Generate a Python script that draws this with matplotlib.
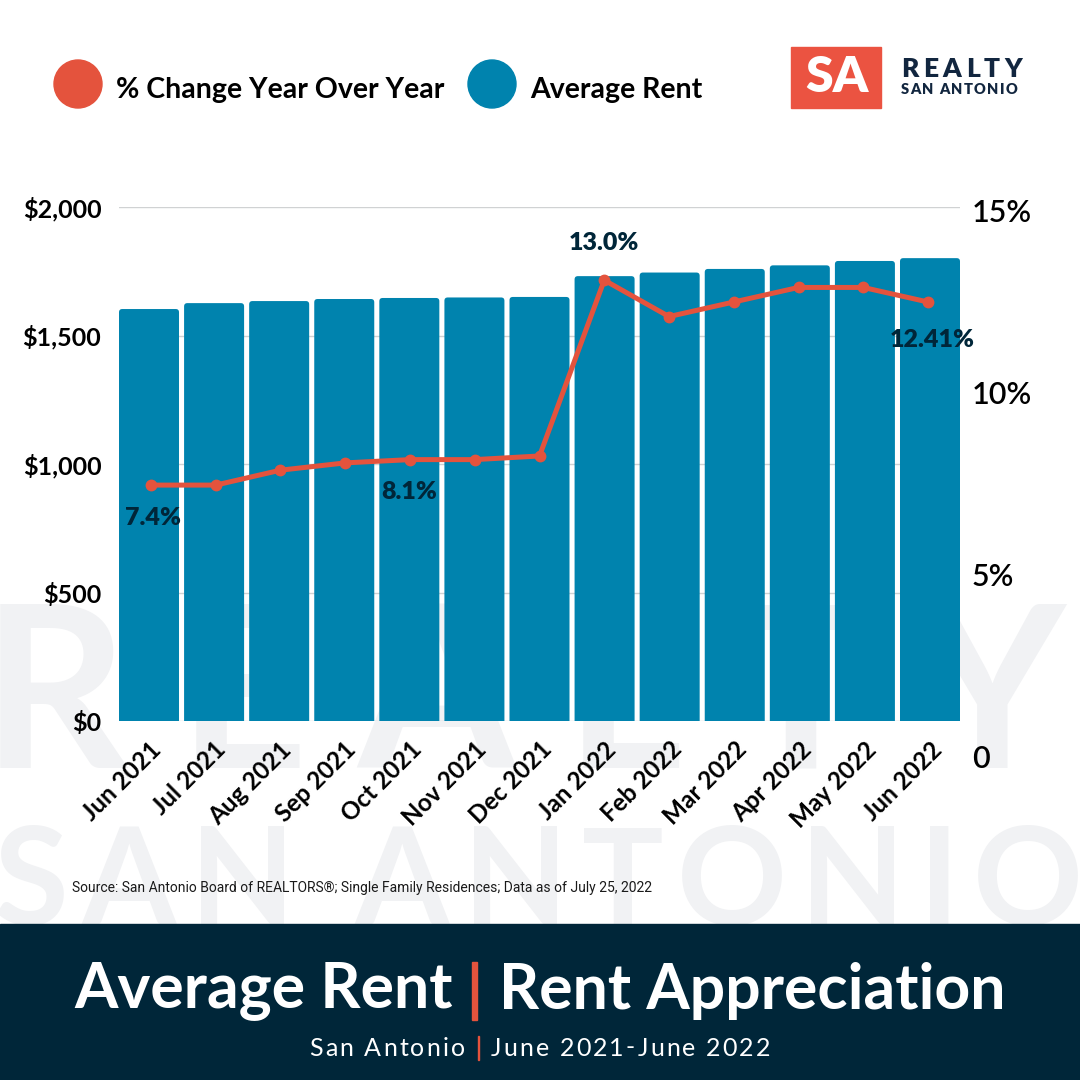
import matplotlib
matplotlib.use('Agg')
import matplotlib.pyplot as plt
from matplotlib.patches import FancyBboxPatch, Rectangle, Ellipse
from matplotlib.transforms import ScaledTranslation
from matplotlib.font_manager import FontProperties
from matplotlib.textpath import text_to_path

plt.rcParams['font.family'] = ['Lato', 'DejaVu Sans']

months = ['Jun 2021', 'Jul 2021', 'Aug 2021', 'Sep 2021', 'Oct 2021', 'Nov 2021', 'Dec 2021',
          'Jan 2022', 'Feb 2022', 'Mar 2022', 'Apr 2022', 'May 2022', 'Jun 2022']
rent = [1603, 1626, 1634, 1642, 1646, 1648, 1650, 1731, 1745, 1759, 1773, 1790, 1801]
pct_change = [7.47, 7.47, 7.88, 8.08, 8.17, 8.17, 8.27, 13.1, 12.1, 12.5, 12.9, 12.9, 12.5]
rent_ticks = [0, 500, 1000, 1500, 2000]
rent_labels = ['$0', '$500', '$1,000', '$1,500', '$2,000']
pct_ticks = [0, 5, 10, 15]
pct_labels = ['0', '5%', '10%', '15%']
# index into pct_change, label text, pixel offset of the label
point_labels = [(0, '7.4%', 2, 33), (4, '8.1%', -1, 32), (7, '13.0%', 0, -37), (12, '12.41%', 4, 38)]

RED = '#e4533d'
BLUE = '#0083ae'
DARK = '#002639'
WATERMARK = '#f1f2f4'

fig = plt.figure(figsize=(10.8, 10.8), dpi=100)
bg = fig.add_axes([0, 0, 1, 1])
bg.set_xlim(0, 1080)
bg.set_ylim(1080, 0)
bg.axis('off')


def spaced_text(x, y, s, spacing, size, weight='normal', color='black', family='Lato', zorder=2):
    # matplotlib has no letter spacing so every character goes down by itself
    prop = FontProperties(family=family, size=size, weight=weight)
    px = 100 / 72
    def width(t):
        return text_to_path.get_text_width_height_descent(t, prop, False)[0] * px
    for i, c in enumerate(s):
        if c != ' ':
            bg.text(x + width(s[:i]) + spacing * i, y, c, fontproperties=prop, color=color,
                    va='center', ha='left', zorder=zorder)


# watermark behind the chart
spaced_text(-18, 703, 'REALTY', 50, 163, weight='bold', color=WATERMARK, zorder=0)
spaced_text(-6, 886, 'SAN ANTONIO', 13.5, 98, weight='bold', color=WATERMARK, zorder=0)

# legend
bg.add_patch(Ellipse((78, 84), 48, 48, color=RED))
bg.add_patch(Ellipse((492, 84), 48, 48, color=BLUE))
bg.text(116, 90, '% Change Year Over Year', fontsize=20.5, fontweight='bold', color='black', va='center')
bg.text(530, 90, 'Average Rent', fontsize=20.5, fontweight='bold', color='black', va='center')

# logo
bg.add_patch(Rectangle((791, 47), 90, 61, color='#eb5341'))
bg.text(837, 78, 'SA', fontsize=36, fontweight='heavy', color='white', ha='center', va='center')
spaced_text(901, 69, 'REALTY', 4.5, 19, weight='heavy', color='#12263f')
spaced_text(901, 89, 'SAN ANTONIO', 1.3, 10.5, weight='heavy', color='#12263f')

# bars, left axis
bar_w = 0.922
ax = fig.add_axes([119 / 1080, 1 - 721 / 1080, 841 / 1080, 514 / 1080])
ax.patch.set_alpha(0)
ax.set_xlim(-bar_w / 2, 12 + bar_w / 2)
ax.set_ylim(0, 2000)
ax.set_yticks(rent_ticks)
ax.set_yticklabels(rent_labels, fontsize=18, fontweight='bold')
ax.set_xticks(range(len(months)))
ax.set_xticklabels(months, fontsize=17.5, fontweight='bold', rotation=45, ha='right', rotation_mode='anchor')
shift = ScaledTranslation(17 / 100, 0, fig.dpi_scale_trans)
for t in ax.get_xticklabels():
    t.set_transform(t.get_transform() + shift)
up = ScaledTranslation(0, 1 / 100, fig.dpi_scale_trans)
for t in ax.get_yticklabels():
    t.set_transform(t.get_transform() + up)
ax.tick_params(axis='both', length=0)
ax.tick_params(axis='y', pad=12.7)
ax.tick_params(axis='x', pad=12)
for s in ax.spines.values():
    s.set_visible(False)
ax.grid(axis='y', color='#d0d2d3', lw=1)
ax.set_axisbelow(True)
y_per_x = (2000 / 514) / ((12 + bar_w) / 841)
for i, v in enumerate(rent):
    ax.add_patch(FancyBboxPatch((i - bar_w / 2, -60), bar_w, v + 60,
                                boxstyle='round,pad=0,rounding_size=0.05', mutation_aspect=y_per_x,
                                fc=BLUE, ec='none', zorder=2))

# line, right axis (its zero sits lower than the bar baseline)
ax2 = fig.add_axes([119 / 1080, 1 - 757 / 1080, 841 / 1080, 546 / 1080])
ax2.patch.set_alpha(0)
ax2.set_xlim(-0.494, 12.494)
ax2.set_ylim(0, 15)
ax2.set_xticks([])
ax2.yaxis.tick_right()
ax2.set_yticks(pct_ticks)
ax2.set_yticklabels(pct_labels, fontsize=22, fontweight='semibold')
ax2.tick_params(axis='y', length=0, pad=8.5)
for s in ax2.spines.values():
    s.set_visible(False)
ax2.plot(range(len(pct_change)), pct_change, color=RED, lw=3.6, marker='o', ms=7.5, zorder=3)
for i, label, dx, dy in point_labels:
    ax2.annotate(label, (i, pct_change[i]), xytext=(dx * 0.72, -dy * 0.72), textcoords='offset points',
                 fontsize=18, fontweight='heavy', color=DARK, ha='center', va='center', zorder=4)

# source
bg.text(72, 888, 'Source: San Antonio Board of REALTORS®; Single Family Residences; Data as of July 25, 2022',
        fontsize=10, family='Roboto', color='#1a1a1a', va='center')

# banner
bg.add_patch(Rectangle((0, 924), 1080, 156, color=DARK, zorder=3))
bg.text(264, 991, 'Average Rent', fontsize=45, fontweight='bold', color='white', ha='center', va='center', zorder=4)
bg.add_patch(Rectangle((472, 962), 4.5, 58, color=RED, zorder=4))
bg.text(752, 991, 'Rent Appreciation', fontsize=45, fontweight='bold', color='white', ha='center', va='center', zorder=4)
spaced_text(309.5, 1048, 'San Antonio', 2.1, 18, color='white', zorder=4)
bg.add_patch(Rectangle((477.5, 1036), 1, 24, color=RED, zorder=4))
spaced_text(491, 1048, 'June 2021-June 2022', 2.1, 18, color='white', zorder=4)

fig.savefig('out.png', dpi=100)
